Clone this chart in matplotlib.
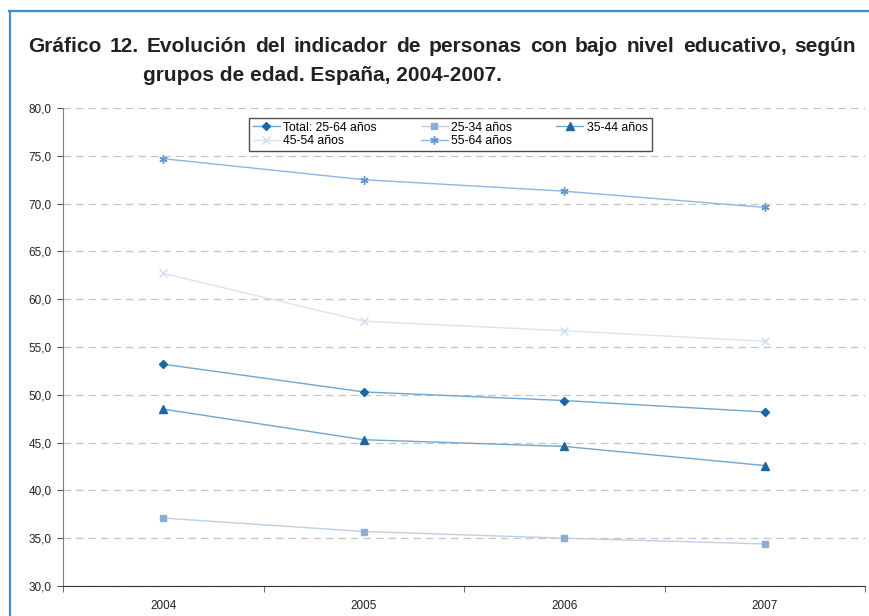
import matplotlib.pyplot as plt
from matplotlib.lines import Line2D

years = ['2004', '2005', '2006', '2007']
total = [53.2, 50.3, 49.4, 48.2]
g25_34 = [37.1, 35.7, 35.0, 34.4]
g35_44 = [48.5, 45.3, 44.6, 42.6]
g45_54 = [62.7, 57.7, 56.7, 55.6]
g55_64 = [74.7, 72.5, 71.3, 69.6]
yticks = [30, 35, 40, 45, 50, 55, 60, 65, 70, 75, 80]

title1 = 'Gráfico 12. Evolución del indicador de personas con bajo nivel educativo, según'
title2 = 'grupos de edad. España, 2004-2007.'

plt.rcParams['font.family'] = ['Liberation Sans', 'DejaVu Sans']

W, H = 870, 616
fig = plt.figure(figsize=(W / 100, H / 100), dpi=100)
ax = fig.add_axes([63 / W, 1 - 586 / H, 802 / W, 478 / H])

# marco azul de la figura (arriba e izquierda)
fig.add_artist(Line2D([9 / W, 1], [1 - 11 / H, 1 - 11 / H], color='#3b8fd2', lw=1.6))
fig.add_artist(Line2D([10 / W, 10 / W], [0, 1 - 11 / H], color='#3b8fd2', lw=1.6))

# primera linea del titulo justificada entre x=28 y x=856
tkw = dict(fontsize=15, fontweight='bold', color='#222222', va='baseline',
           family='Liberation Sans')
renderer = fig.canvas.get_renderer()
words = [fig.text(0, 1 - 52 / H, w, **tkw) for w in title1.split()]
widths = [t.get_window_extent(renderer).width for t in words]
gap = (856 - 28 - sum(widths)) / (len(words) - 1)
xpos = 28
for t, wd in zip(words, widths):
    t.set_x(round(xpos) / W)
    xpos += wd + gap
fig.text(143 / W, 1 - 81 / H, title2, **tkw)

x = range(len(years))
l1, = ax.plot(x, total, color='#6ea6d4', lw=1, marker='D', ms=4.5, mfc='#1a67a3', mec='#1a67a3')
l2, = ax.plot(x, g25_34, color='#bcd0e8', lw=1, marker='s', ms=5, mfc='#8caed6', mec='#8caed6')
l3, = ax.plot(x, g35_44, color='#6ea6d4', lw=1, marker='^', ms=6, mfc='#1a67a3', mec='#1a67a3')
l4, = ax.plot(x, g45_54, color='#d8e4f2', lw=1, marker='x', ms=6, mec='#cfdcef', mew=1)
l5, = ax.plot(x, g55_64, color='#8fb6df', lw=1, marker=(6, 2, 0), ms=6, mec='#5f95cc', mew=1)

ax.set_xlim(-0.5, 3.5)
ax.set_ylim(30, 80)
ax.set_yticks(yticks)
ax.set_yticklabels([f'{v:.1f}'.replace('.', ',') for v in yticks], fontsize=8.5, color='#222222')
ax.set_xticks(list(x))
ax.set_xticklabels(years, fontsize=8.5, color='#222222')
ax.set_xticks([-0.5, 0.5, 1.5, 2.5, 3.5], minor=True)
ax.tick_params(axis='x', which='major', length=0, pad=10)
ax.tick_params(axis='x', which='minor', length=4, color='#555555')
ax.tick_params(axis='y', length=4, color='#555555', pad=4)

ax.grid(axis='y', color='#c4c4c4', ls=(0, (6, 4)), lw=0.9)
for s in ['top', 'right']:
    ax.spines[s].set_visible(False)
ax.spines['left'].set_color('#808080')
ax.spines['bottom'].set_color('#333333')

handles = [l1, l4, l2, l5, l3]
labels = ['Total: 25-64 años', '45-54 años', '25-34 años', '55-64 años', '35-44 años']
leg = ax.legend(handles, labels, ncol=3, loc='upper left',
                bbox_to_anchor=((249 - 63) / 802, (586 - 118) / 478),
                fontsize=8.8, frameon=True, fancybox=False, edgecolor='#222222',
                handlelength=2.2, handletextpad=0.3, columnspacing=3.6,
                labelspacing=0.15, borderpad=0.3, borderaxespad=0)
leg.get_frame().set_linewidth(1)

fig.savefig('out.png', dpi=100)
